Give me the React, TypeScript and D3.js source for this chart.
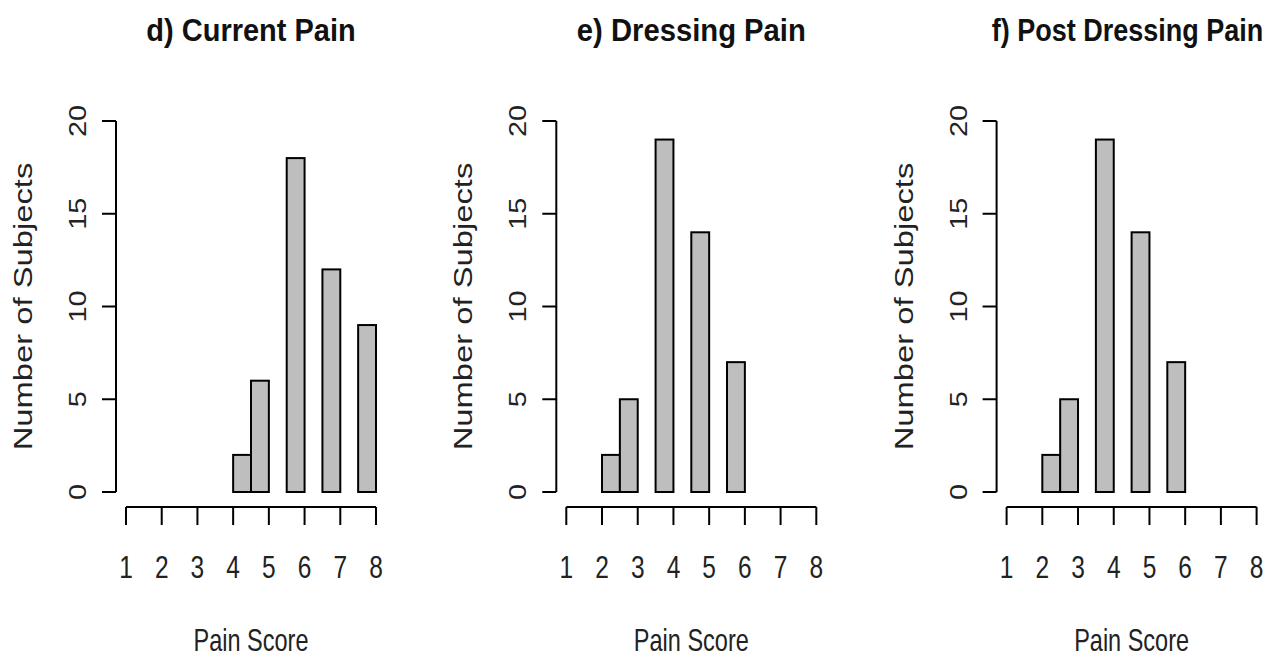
import React from "react";
import * as d3 from "d3";

const panelTitles = ["d) Current Pain", "e) Dressing Pain", "f) Post Dressing Pain"];
const titleScaleX = [1.16, 1.17, 1.08];
const titleShift = [0, 0, -4];

const currentBreaks = [4, 4.5, 5, 5.5, 6, 6.5, 7, 7.5, 8];
const currentCounts = [2, 6, 0, 18, 0, 12, 0, 9];

const dressingBreaks = [2, 2.5, 3, 3.5, 4, 4.5, 5, 5.5, 6];
const dressingCounts = [2, 5, 0, 19, 0, 14, 0, 7];

const postDressingBreaks = [2, 2.5, 3, 3.5, 4, 4.5, 5, 5.5, 6];
const postDressingCounts = [2, 5, 0, 19, 0, 14, 0, 7];

const xTicks = [1, 2, 3, 4, 5, 6, 7, 8];
const yTicks = [0, 5, 10, 15, 20];

const xLabel = "Pain Score";
const yLabel = "Number of Subjects";

const panels = [
  { title: panelTitles[0], breaks: currentBreaks, counts: currentCounts },
  { title: panelTitles[1], breaks: dressingBreaks, counts: dressingCounts },
  { title: panelTitles[2], breaks: postDressingBreaks, counts: postDressingCounts },
];

const FONT = "'Liberation Sans', Arial, Helvetica, sans-serif";
const SY = 1.26;

function Panel({ p, i }: { p: any; i: number }) {
  const ox = i * 440.3;
  const x = d3.scaleLinear().domain([1, 8]).range([126 + ox, 376 + ox]);
  const y = d3.scaleLinear().domain([0, 20]).range([492, 121]);
  const yAxisX = 116 + ox;
  const xAxisY = 507;
  const cx = (x(1) + x(8)) / 2;
  const bins = p.counts.map((c: number, k: number) => ({ x0: p.breaks[k], x1: p.breaks[k + 1], c }));
  return (
    <g>
      <text
        transform={`translate(${cx + titleShift[i]},41) scale(${titleScaleX[i]},1.29)`}
        fontFamily={FONT}
        fontWeight="bold"
        fontSize={25}
        textAnchor="middle"
        fill="#111"
      >
        {p.title}
      </text>
      {bins.map((b: any, k: number) => (
        <rect
          key={k}
          x={x(b.x0)}
          y={y(b.c)}
          width={x(b.x1) - x(b.x0)}
          height={y(0) - y(b.c)}
          fill="#bebebe"
          stroke="#000"
          strokeWidth={2}
        />
      ))}
      {/* y axis */}
      <line x1={yAxisX} x2={yAxisX} y1={y(0)} y2={y(20)} stroke="#000" strokeWidth={2} />
      {yTicks.map((t) => (
        <g key={t}>
          <line x1={yAxisX - 14} x2={yAxisX} y1={y(t)} y2={y(t)} stroke="#000" strokeWidth={2} />
          <text
            transform={`translate(${yAxisX - 30},${y(t)}) scale(1,1.18) rotate(-90)`}
            fontFamily={FONT}
            fontSize={24.5}
            textAnchor="middle"
            fill="#222"
          >
            {t}
          </text>
        </g>
      ))}
      <text
        transform={`translate(${yAxisX - 84},${(y(0) + y(20)) / 2}) scale(1,${SY}) rotate(-90)`}
        fontFamily={FONT}
        fontSize={26}
        textAnchor="middle"
        fill="#222"
      >
        {yLabel}
      </text>
      {/* x axis */}
      <line x1={x(1)} x2={x(8)} y1={xAxisY} y2={xAxisY} stroke="#000" strokeWidth={2} />
      {xTicks.map((t) => (
        <g key={t}>
          <line x1={x(t)} x2={x(t)} y1={xAxisY} y2={xAxisY + 18} stroke="#000" strokeWidth={2} />
          <text
            transform={`translate(${x(t)},578) scale(1,1.3)`}
            fontFamily={FONT}
            fontSize={24.5}
            textAnchor="middle"
            fill="#222"
          >
            {t}
          </text>
        </g>
      ))}
      <text
        transform={`translate(${cx},651) scale(1,1.3)`}
        fontFamily={FONT}
        fontSize={23.5}
        textAnchor="middle"
        fill="#222"
      >
        {xLabel}
      </text>
    </g>
  );
}

export default function App() {
  return (
    <svg
      width={1286}
      height={659}
      style={{ position: "absolute", left: 0, top: 0, background: "#fff" }}
    >
      <rect x={0} y={0} width={1286} height={659} fill="#fff" />
      {panels.map((p, i) => (
        <Panel key={i} p={p} i={i} />
      ))}
    </svg>
  );
}
